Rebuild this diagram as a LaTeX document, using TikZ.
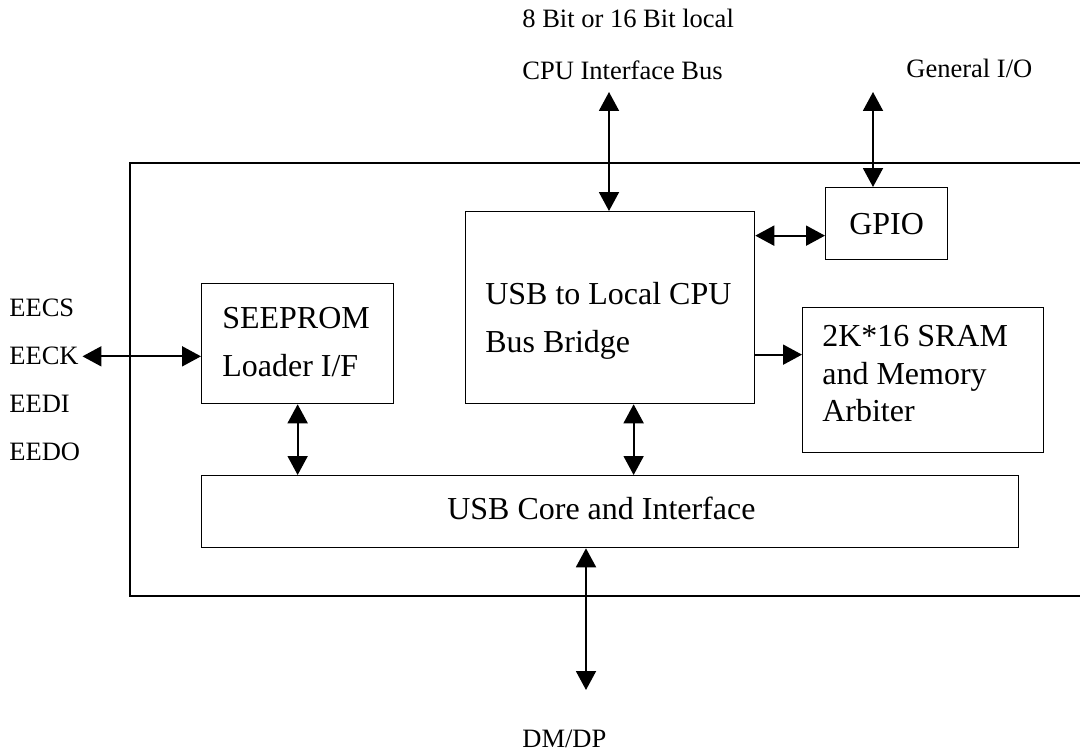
\documentclass[tikz,border=0pt]{standalone}
\usepackage{fontspec}
\setmainfont{Liberation Serif}
\usetikzlibrary{arrows.meta}

\begin{document}
\begin{tikzpicture}[x=0.02cm,y=-0.02cm,
  box/.style={draw,line width=0.75pt,inner sep=0,anchor=north west,font=\fontsize{18.2}{27.3}\selectfont},
  blocktext/.style={anchor=base west,inner sep=0,text width=5.5cm,align=flush left,font=\fontsize{18.2}{27.3}\selectfont},
  pin/.style={anchor=base west,inner sep=0,font=\fontsize{15.1}{18}\selectfont},
  bus/.style={line width=1.1pt,{Triangle[length=0.38cm,width=0.4cm]}-{Triangle[length=0.38cm,width=0.4cm]}},
  feed/.style={line width=1.1pt,-{Triangle[length=0.38cm,width=0.4cm]}}]
\useasboundingbox (0,0) rectangle (1080,753);

% chip outline, open on the right
\draw[line width=0.75pt] (1080,163) -- (130,163) -- (130,596) -- (1080,596);

% blocks
\node[box,minimum width=3.84cm,minimum height=2.4cm] (seeprom) at (201,283) {};
\node[box,minimum width=5.78cm,minimum height=3.84cm] (bridge) at (465,211) {};
\node[box,minimum width=2.44cm,minimum height=1.44cm] (gpio) at (825,187) {GPIO};
\node[box,minimum width=4.82cm,minimum height=2.9cm] (sram) at (802,307) {};
\node[box,minimum width=16.34cm,minimum height=1.44cm] (core) at (201,475) {};

\node[blocktext] (seepromtext) at (222,329) {SEEPROM\\Loader I/F};
\node[blocktext] (bridgetext) at (485,305) {USB to Local CPU\\Bus Bridge};
\node[blocktext,font=\fontsize{18.2}{21.3}\selectfont] (sramtext) at (822,347) {2K*16 SRAM\\and Memory\\Arbiter};
\node[blocktext,text width=9cm] (coretext) at (447,520) {USB Core and Interface};

% outside signals
\node[pin] (buswidth) at (522,28) {8 Bit or 16 Bit local};
\node[pin] (busname) at (522,80) {CPU Interface Bus};
\node[pin] (gio) at (906,78) {General I/O};
\node[pin] (dmdp) at (522,747) {DM/DP};
\node[pin] (eecs) at (9,317) {EECS};
\node[pin] (eeck) at (9,365) {EECK};
\node[pin] (eedi) at (9,413) {EEDI};
\node[pin] (eedo) at (9,461) {EEDO};

\coordinate (cputop) at (609,92);
\coordinate (giotop) at (873,92);
\coordinate (usbbot) at (586,690);

\draw[bus] (cputop) -- (cputop |- bridge.north);
\draw[bus] (giotop) -- (giotop |- gpio.north);
\draw[bus] ([yshift=-0.24cm]gpio.west -| bridge.east) -- ([yshift=-0.24cm]gpio.west);
\draw[feed] ([yshift=0.51cm]sram.west -| bridge.east) -- ([yshift=0.51cm]sram.west);
\draw[bus] ([xshift=0.07cm]eeck.east) -- (eeck.east -| seeprom.west);
\draw[bus] (seeprom.south) -- (seeprom.south |- core.north);
\draw[bus] ([xshift=0.47cm]bridge.south) -- ([xshift=0.47cm]bridge.south |- core.north);
\draw[bus] (usbbot |- core.south) -- (usbbot);
\end{tikzpicture}
\end{document}
